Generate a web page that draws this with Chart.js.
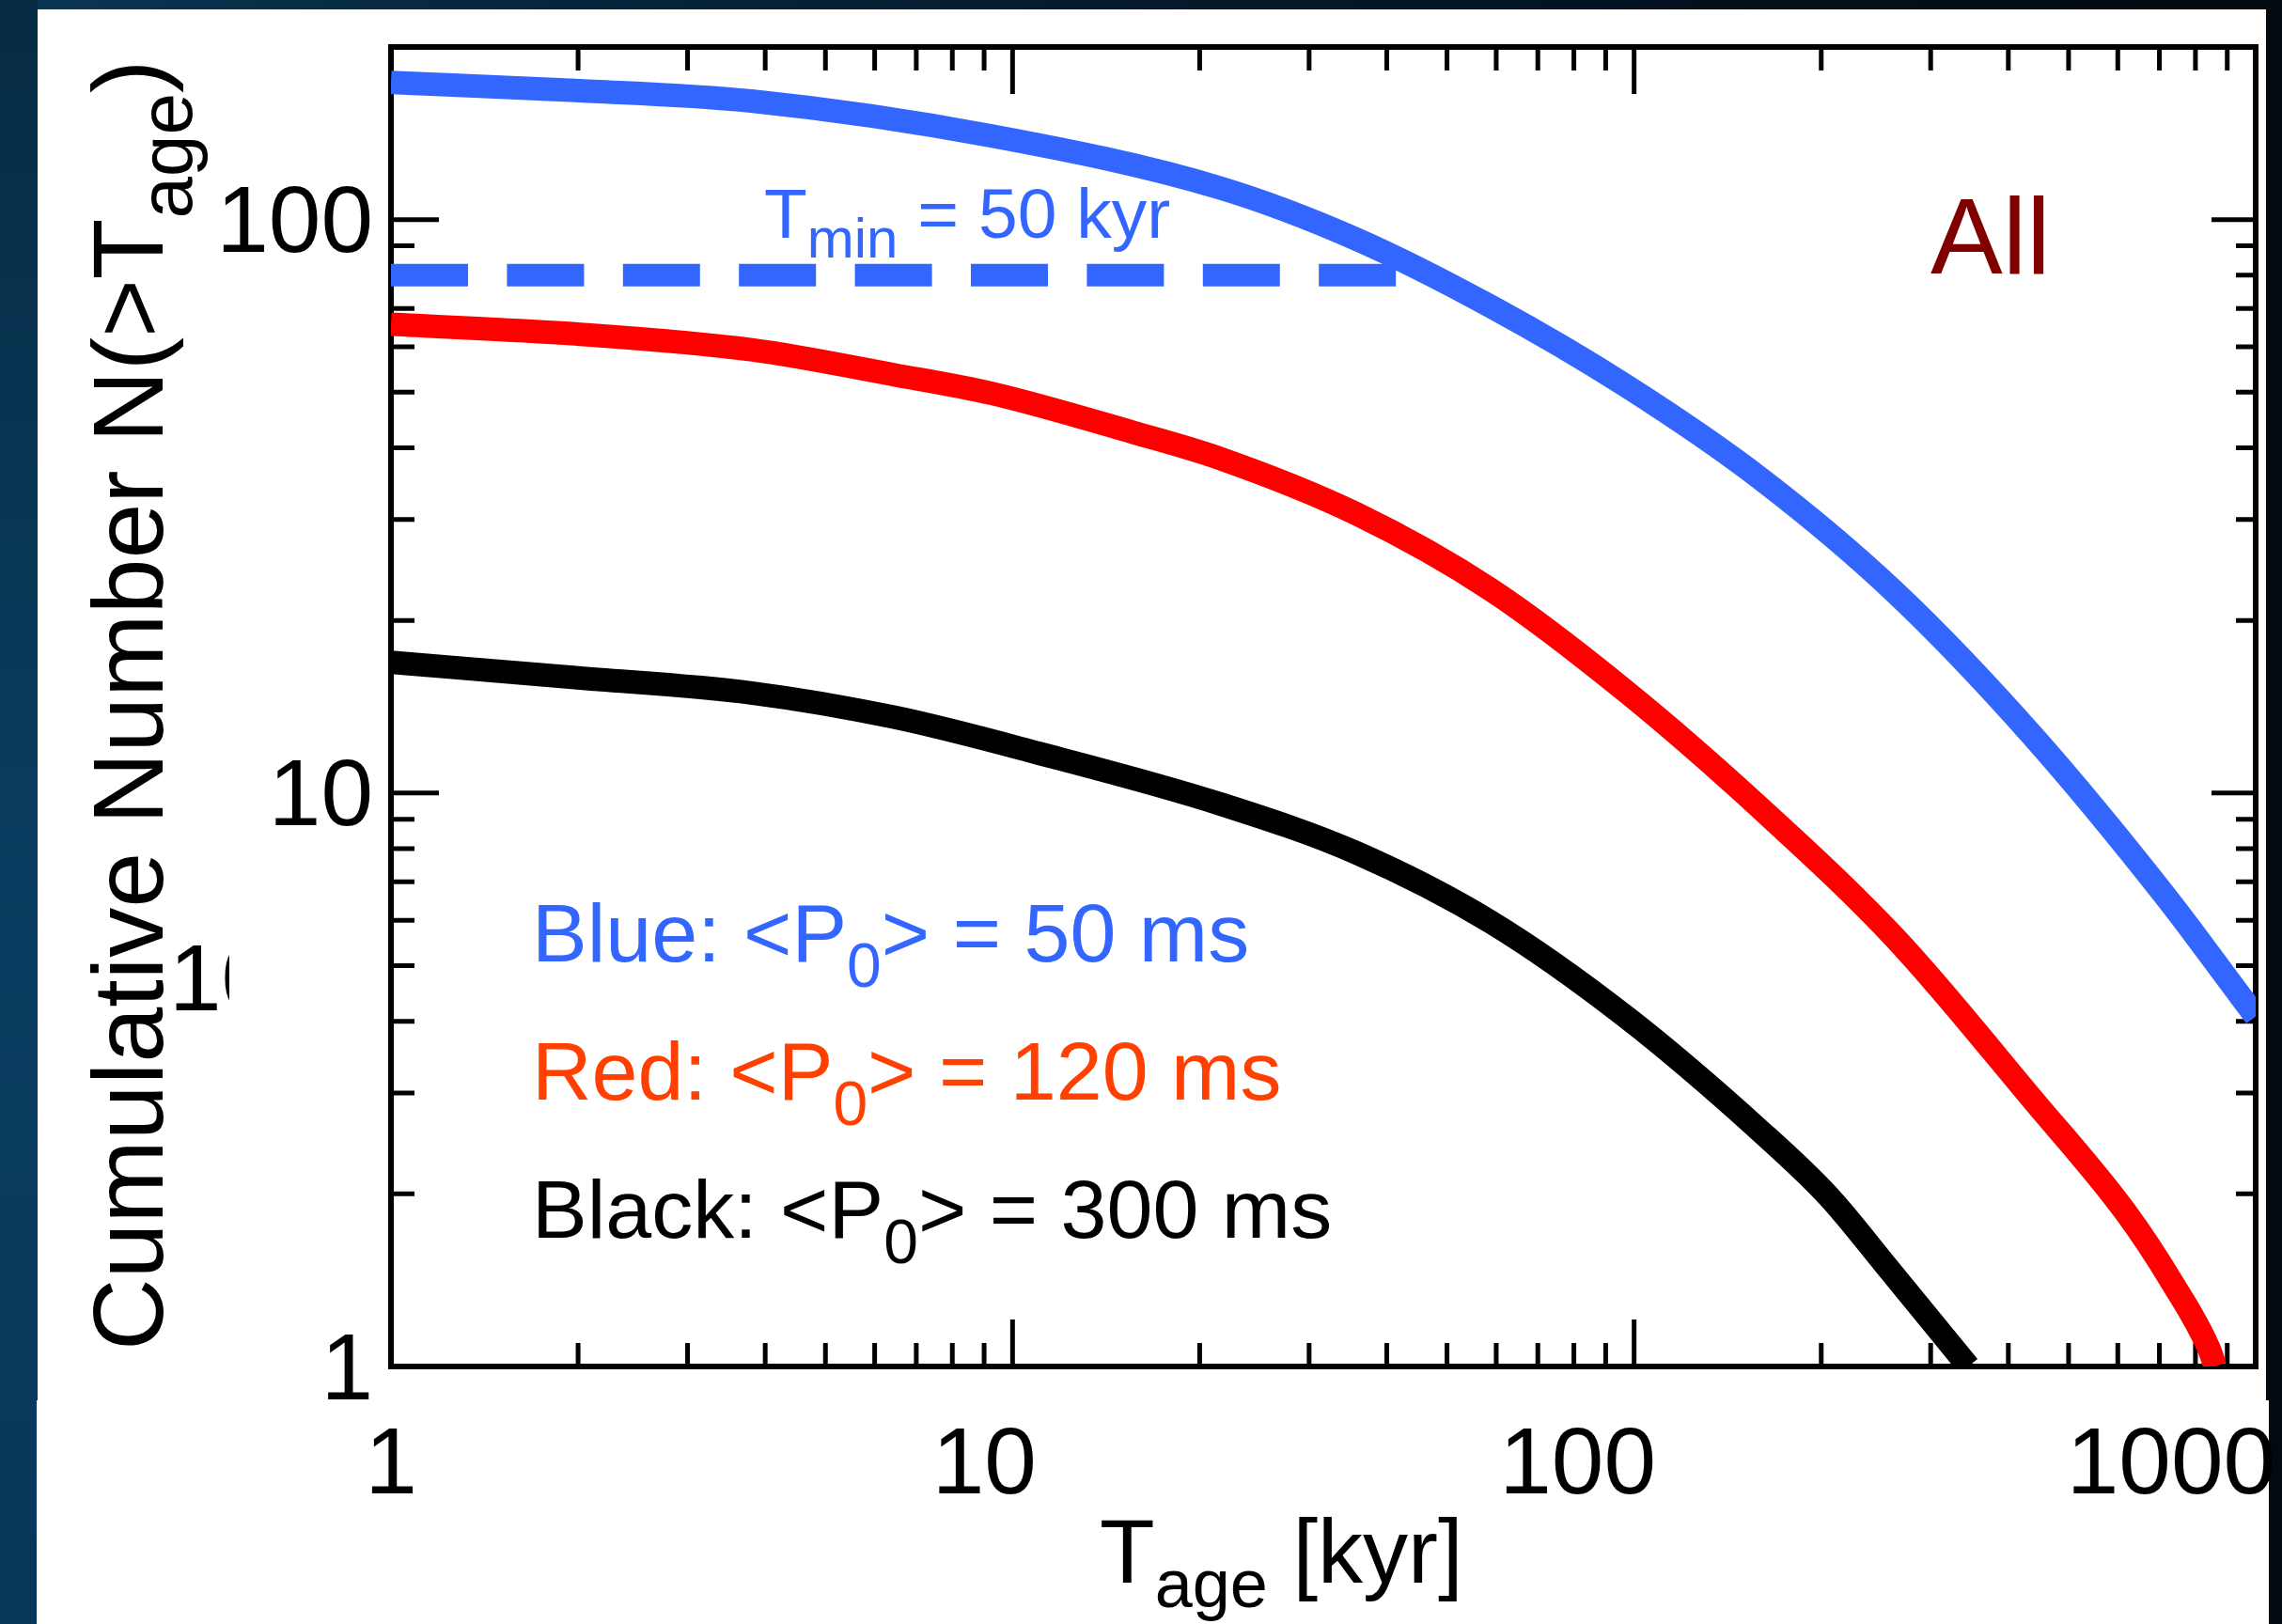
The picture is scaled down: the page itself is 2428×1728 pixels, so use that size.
<!DOCTYPE html>
<html><head><meta charset="utf-8">
<script src="https://cdn.jsdelivr.net/npm/chart.js@4/dist/chart.umd.min.js"></script>
<style>
html,body{margin:0;padding:0;width:2428px;height:1728px;overflow:hidden;}
body{position:relative;background:linear-gradient(to right,#0a3654 0px,#072a42 400px,#04182a 1300px,#02090f 2428px);}
#leftband{position:absolute;left:0;top:0;width:40px;height:1728px;background:linear-gradient(to bottom,#062b44,#0a3e60 55%,#063858);}
#panel{position:absolute;left:40px;top:10px;width:2371px;height:1718px;background:#fff;}
#panel2{position:absolute;left:39px;top:1490px;width:2375px;height:238px;background:#fff;}
#wrap{position:absolute;left:0;top:0;width:2428px;height:1728px;}
</style></head>
<body>
<div id="leftband"></div><div id="panel"></div><div id="panel2"></div>
<div id="wrap"><canvas id="c"></canvas></div>
<script>
// ---------- data ----------
const blueX  = [1, 1.98, 3.8, 9.23, 21.6, 35.7, 58.9, 97.3, 160.5, 264, 435.5, 719, 946, 1000];
const blueY  = [173.5, 168, 161, 140, 113.5, 92.5, 70.5, 51.2, 35.2, 22.3, 12.66, 6.57, 4.42, 4.08];
const redX   = [1, 1.98, 3.8, 6.47, 9.23, 15.7, 21.6, 35.7, 58.9, 97.3, 160.5, 264, 435.5, 618.6, 733.6, 840.5, 861];
const redY   = [65.7, 63.2, 59.3, 53.6, 49.8, 42.5, 38.3, 30.7, 22.6, 15.0, 9.36, 5.56, 2.94, 1.854, 1.402, 1.076, 1.0];
const blackX = [1, 1.98, 3.8, 6.47, 11.0, 21.6, 35.7, 58.9, 97.3, 160.5, 205.5, 258, 345];
const blackY = [16.9, 15.9, 14.95, 13.55, 11.74, 9.57, 7.87, 5.95, 4.06, 2.56, 1.98, 1.47, 1.0];
const tminX  = [1, 41.5];
const tminY  = [80, 80];

const xTickLabels = [1, 10, 100, 1000];
const yTickLabels = [1, 10, 100];
const xDecades = [1, 10, 100];
const yDecades = [1, 10, 100];

const yTitleParts = ['Cumulative Number N(>T', 'age', ')'];
const xTitleParts = ['T', 'age', ' [kyr]'];
const tminParts   = ['T', 'min', ' = 50 kyr'];
const legendLines = [
  ['Blue: <P', '0', '> = 50 ms'],
  ['Red: <P', '0', '> = 120 ms'],
  ['Black: <P', '0', '> = 300 ms']
];
const panelLabel = 'All';
const strayLabel = '10';

// ---------- helpers ----------
const FONT = '"Liberation Sans", Arial, Helvetica, sans-serif';
const fnt = s => s + 'px ' + FONT;
const pts = (xs, ys) => xs.map((x, i) => ({x: x, y: ys[i]}));
const near = (v, arr) => arr.some(t => Math.abs(v - t) / t < 1e-6);
const zeroPad = s => { s.paddingTop = 0; s.paddingBottom = 0; s.paddingLeft = 0; s.paddingRight = 0; };

function drawRich(ctx, parts, x, y) {
  let cx = x;
  for (const p of parts) {
    ctx.font = fnt(p.size);
    ctx.fillStyle = p.color;
    ctx.fillText(p.text, cx, y + p.dy);
    cx += ctx.measureText(p.text).width;
  }
}

const frameTicks = {
  id: 'frameTicks',
  beforeDatasetsDraw(chart) {
    const {ctx, chartArea: a} = chart;
    const x = chart.scales.x, y = chart.scales.y;
    ctx.save();
    ctx.strokeStyle = '#000';
    ctx.lineCap = 'butt';
    ctx.lineWidth = 5;
    ctx.beginPath();
    const xt = (v, len) => {
      const p = x.getPixelForValue(v);
      ctx.moveTo(p, a.top); ctx.lineTo(p, a.top + len);
      ctx.moveTo(p, a.bottom); ctx.lineTo(p, a.bottom - len);
    };
    const yt = (v, len, lenR) => {
      const p = y.getPixelForValue(v);
      ctx.moveTo(a.left, p); ctx.lineTo(a.left + len, p);
      ctx.moveTo(a.right, p); ctx.lineTo(a.right - lenR, p);
    };
    xDecades.forEach(d => { for (let m = 2; m <= 9; m++) xt(d * m, 25); });
    xTickLabels.forEach(v => xt(v, 50));
    yDecades.forEach(d => { for (let m = 2; m <= 9; m++) { const v = d * m; if (v < y.max) yt(v, 25, 21); } });
    yTickLabels.forEach(v => yt(v, 51, 47));
    ctx.stroke();
    ctx.lineWidth = 6;
    ctx.strokeRect(a.left, a.top, a.right - a.left, a.bottom - a.top);
    ctx.restore();
  }
};

const texts = {
  id: 'texts',
  afterDraw(chart) {
    const ctx = chart.ctx;
    ctx.save();
    ctx.textBaseline = 'alphabetic';
    ctx.textAlign = 'left';
    const blue = '#3366ff';
    // T_min label
    drawRich(ctx, [
      {text: tminParts[0], size: 75, dy: 0, color: blue},
      {text: tminParts[1], size: 60, dy: 21, color: blue},
      {text: tminParts[2], size: 75, dy: 0, color: blue}
    ], 813, 253);
    // panel label
    ctx.font = fnt(115); ctx.fillStyle = '#800000';
    ctx.fillText(panelLabel, 2054, 291);
    // legend text
    const lc = ['#3366ff', '#ff4000', '#000000'];
    const lb = [1023, 1170, 1317];
    legendLines.forEach((l, i) => {
      drawRich(ctx, [
        {text: l[0], size: 88, dy: 0, color: lc[i]},
        {text: l[1], size: 66, dy: 27, color: lc[i]},
        {text: l[2], size: 88, dy: 0, color: lc[i]}
      ], 566, lb[i]);
    });
    // x title
    drawRich(ctx, [
      {text: xTitleParts[0], size: 96, dy: 0, color: '#000'},
      {text: xTitleParts[1], size: 72, dy: 26, color: '#000'},
      {text: xTitleParts[2], size: 96, dy: 0, color: '#000'}
    ], 1170, 1684);
    // y title (rotated)
    ctx.save();
    ctx.translate(173, 1437);
    ctx.rotate(-Math.PI / 2);
    drawRich(ctx, [
      {text: yTitleParts[0], size: 106, dy: 0, color: '#000'},
      {text: yTitleParts[1], size: 80, dy: 31, color: '#000'},
      {text: yTitleParts[2], size: 106, dy: 0, color: '#000'}
    ], 0, 0);
    ctx.restore();
    // partially hidden stray label fragment (as in the reference)
    ctx.save();
    ctx.beginPath(); ctx.rect(150, 980, 94, 110); ctx.clip();
    ctx.font = fnt(100); ctx.fillStyle = '#000';
    ctx.fillText(strayLabel, 180, 1075);
    ctx.restore();
    ctx.restore();
  }
};

const common = {pointRadius: 0, fill: false, borderJoinStyle: 'round', borderCapStyle: 'butt', xAxisID: 'x', yAxisID: 'y'};

new Chart(document.getElementById('c'), {
  type: 'line',
  data: {
    datasets: [
      Object.assign({label: 'Blue', data: pts(blueX, blueY), borderColor: '#3366ff', borderWidth: 25, cubicInterpolationMode: 'monotone'}, common),
      Object.assign({label: 'Tmin', data: pts(tminX, tminY), borderColor: '#3366ff', borderWidth: 24, borderDash: [82, 41.4]}, common),
      Object.assign({label: 'Red', data: pts(redX, redY), borderColor: '#ff0000', borderWidth: 25, cubicInterpolationMode: 'monotone'}, common),
      Object.assign({label: 'Black', data: pts(blackX, blackY), borderColor: '#000000', borderWidth: 25, cubicInterpolationMode: 'monotone'}, common)
    ]
  },
  options: {
    responsive: true,
    maintainAspectRatio: false,
    animation: false,
    events: [],
    layout: {padding: {top: 50, right: 28, bottom: 0, left: 0}},
    plugins: {legend: {display: false}, tooltip: {enabled: false}},
    scales: {
      x: {type: 'logarithmic', min: 1, max: 1000, display: false},
      xl: {
        type: 'logarithmic', position: 'bottom', min: 1, max: 1389,
        grid: {display: false, drawTicks: false}, border: {display: false},
        ticks: {autoSkip: false, maxRotation: 0, minRotation: 0, color: '#000', padding: 47,
          font: {size: 100, family: FONT},
          callback: v => near(v, xTickLabels) ? String(Math.round(v)) : ''},
        afterFit: s => { s.height = 274; zeroPad(s); }
      },
      y: {
        type: 'logarithmic', position: 'left', min: 1, max: 200,
        grid: {display: false, drawTicks: false}, border: {display: false},
        ticks: {autoSkip: false, color: '#000', padding: 19, labelOffset: 7,
          font: {size: 100, family: FONT},
          callback: v => near(v, yTickLabels) ? String(Math.round(v)) : ''},
        afterFit: s => { s.width = 416; zeroPad(s); }
      }
    }
  },
  plugins: [frameTicks, texts]
});
</script>
</body></html>
